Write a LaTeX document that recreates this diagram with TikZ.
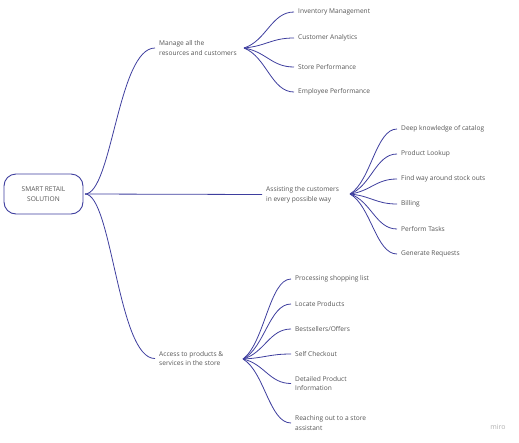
\documentclass[tikz,border=0pt]{standalone}
\usepackage{fontspec}
\setmainfont{Open Sans}
\usetikzlibrary{calc}
\definecolor{linec}{RGB}{62,62,158}
\definecolor{txtc}{RGB}{85,85,85}
\definecolor{miroc}{RGB}{175,175,175}
\tikzset{
  lbl/.style={anchor=west, inner xsep=4pt, inner ysep=1pt, text=txtc, align=left,
    font=\fontsize{6.6}{9.6}\selectfont},
  rootbox/.style={draw=linec, line width=0.9pt, rounded corners=12pt, minimum width=79pt,
    minimum height=40pt, text=txtc, align=center, font=\fontsize{6.6}{9.6}\selectfont},
  conn/.style={draw=linec, line width=0.8pt},
}
\newcommand{\fan}[2]{%
  \draw[conn] let \p1=(#1), \p2=(#2) in (#1) .. controls ({\x1+0.45*(\x2-\x1)},{\y1+0.2*(\y2-\y1)}) and ({\x2-0.45*(\x2-\x1)},\y2) .. (#2);}
\begin{document}
\begin{tikzpicture}[x=1pt,y=-1pt]
\useasboundingbox (0,0) rectangle (519,442);
% root
\node[rootbox] (root) at (43.5,194) {SMART RETAIL\\SOLUTION};
\coordinate (rh) at (85,194);
% level 1
\node[lbl] (b1) at (155,48) {Manage all the\\resources and customers};
\node[lbl] (b2) at (262,194.5) {Assisting the customers\\in every possible way};
\node[lbl] (b3) at (155,358.5) {Access to products \&\\services in the store};
\coordinate (h1) at (244,48);
\coordinate (h2) at (350,194);
\coordinate (h3) at (243,359);
\draw[conn] (rh) .. controls (112,194) and (118,48) .. (b1.west);
\draw[conn] (rh) -- (b2.west);
\draw[conn] (rh) .. controls (112,194) and (118,359) .. (b3.west);
% branch 1 children
\node[lbl] (c11) at (294,12) {Inventory Management};
\node[lbl] (c12) at (294,38) {Customer Analytics};
\node[lbl] (c13) at (294,67) {Store Performance};
\node[lbl] (c14) at (294,92) {Employee Performance};
% branch 2 children
\node[lbl] (c21) at (397,129) {Deep knowledge of catalog};
\node[lbl] (c22) at (397,154) {Product Lookup};
\node[lbl] (c23) at (397,179) {Find way around stock outs};
\node[lbl] (c24) at (397,204) {Billing};
\node[lbl] (c25) at (397,229) {Perform Tasks};
\node[lbl] (c26) at (397,254) {Generate Requests};
% branch 3 children
\node[lbl] (c31) at (291,279) {Processing shopping list};
\node[lbl] (c32) at (291,304) {Locate Products};
\node[lbl] (c33) at (291,329) {Bestsellers/Offers};
\node[lbl] (c34) at (291,354) {Self Checkout};
\node[lbl] (c35) at (291,383.5) {Detailed Product\\Information};
\node[lbl] (c36) at (291,423) {Reaching out to a store\\assistant};
\fan{h1}{c11.west}\fan{h1}{c12.west}\fan{h1}{c13.west}\fan{h1}{c14.west}
\fan{h2}{c21.west}\fan{h2}{c22.west}\fan{h2}{c23.west}\fan{h2}{c24.west}\fan{h2}{c25.west}\fan{h2}{c26.west}
\fan{h3}{c31.west}\fan{h3}{c32.west}\fan{h3}{c33.west}\fan{h3}{c34.west}\fan{h3}{c35.west}\fan{h3}{c36.west}
\node[text=miroc, font=\fontsize{7}{8}\selectfont, inner sep=0pt] (miro) at (498,427) {miro};
\end{tikzpicture}
\end{document}
